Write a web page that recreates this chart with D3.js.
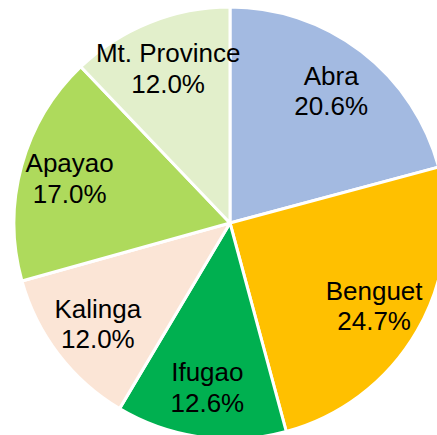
<!DOCTYPE html>
<html>
<head>
<meta charset="utf-8">
<script src="https://cdn.jsdelivr.net/npm/d3@7"></script>
<style>
  body { margin: 0; background: #fff; }
</style>
</head>
<body>
<svg id="chart"></svg>
<script>
// provinces, clockwise from 12 o'clock
var provinces = ["Abra", "Benguet", "Ifugao", "Kalinga", "Apayao", "Mt. Province"];
var shares = [20.6, 24.7, 12.6, 12.0, 17.0, 12.0];
var colors = ["#A3BAE1", "#FFC000", "#00B050", "#FBE5D6", "#AEDA5C", "#E2EFCB"];

var width = 437, height = 435;
var cx = 230, cy = 223, radius = 216;

var svg = d3.select("#chart")
    .attr("width", width)
    .attr("height", height);

var g = svg.append("g")
    .attr("transform", "translate(" + cx + "," + cy + ")");

var data = provinces.map(function(p, i) {
  return { name: p, value: shares[i], color: colors[i] };
});

var pie = d3.pie()
    .sort(null)
    .value(function(d) { return d.value; });

var arc = d3.arc()
    .innerRadius(0)
    .outerRadius(radius);

// labels sit about three quarters of the way out
var labelArc = d3.arc()
    .innerRadius(radius * 0.77)
    .outerRadius(radius * 0.77);

var slices = g.selectAll("g.slice")
    .data(pie(data))
    .enter()
    .append("g")
    .attr("class", "slice");

slices.append("path")
    .attr("d", arc)
    .attr("fill", function(d) { return d.data.color; })
    .attr("stroke", "#fff")
    .attr("stroke-width", 3)
    .attr("stroke-linejoin", "round");

var labels = slices.append("text")
    .attr("transform", function(d) {
      var c = labelArc.centroid(d);
      return "translate(" + c[0] + "," + c[1] + ")";
    })
    .attr("text-anchor", "middle")
    .style("font", "26px 'Liberation Sans', Arial, sans-serif")
    .style("fill", "#000");

labels.append("tspan")
    .attr("x", 0)
    .attr("dy", "-0.25em")
    .text(function(d) { return d.data.name; });

labels.append("tspan")
    .attr("x", 0)
    .attr("dy", "1.18em")
    .text(function(d) { return d.data.value.toFixed(1) + "%"; });
</script>
</body>
</html>
